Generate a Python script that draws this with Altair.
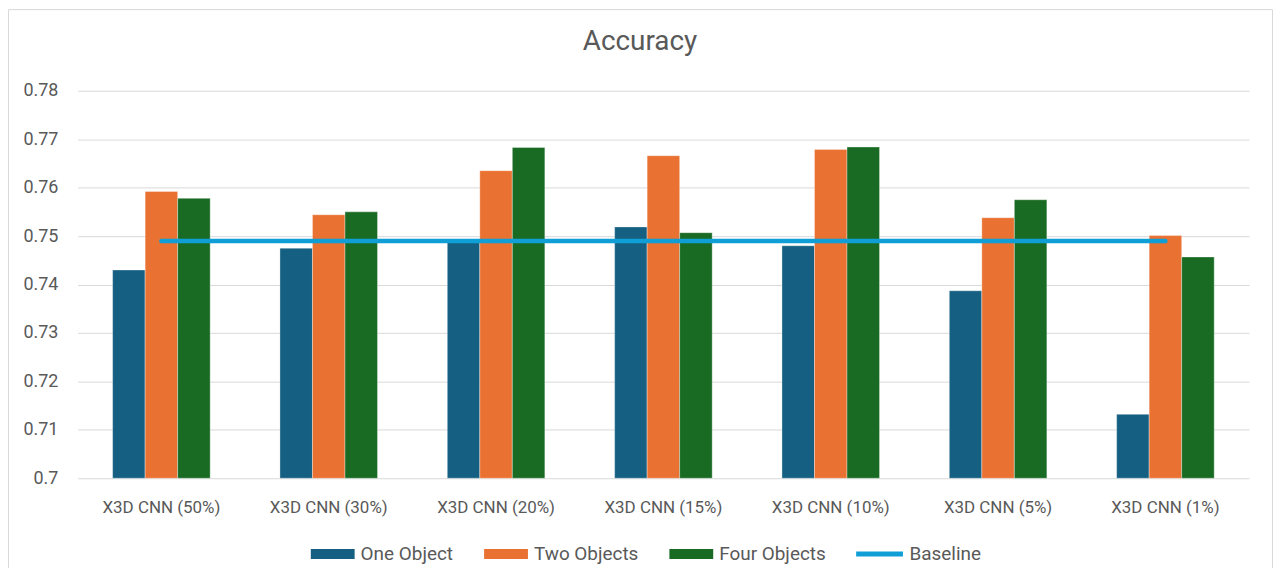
import altair as alt
import pandas as pd

categories = ["X3D CNN (50%)", "X3D CNN (30%)", "X3D CNN (20%)", "X3D CNN (15%)",
              "X3D CNN (10%)", "X3D CNN (5%)", "X3D CNN (1%)"]
series_names = ["One Object", "Two Objects", "Four Objects"]
one_object = [0.7430, 0.7475, 0.7492, 0.7519, 0.7480, 0.7387, 0.7132]
two_objects = [0.7592, 0.7544, 0.7635, 0.7666, 0.7679, 0.7538, 0.7501]
four_objects = [0.7578, 0.7550, 0.7683, 0.7507, 0.7684, 0.7575, 0.7457]
baseline = [0.749, 0.749, 0.749, 0.749, 0.749, 0.749, 0.749]
y_ticks = [0.70, 0.71, 0.72, 0.73, 0.74, 0.75, 0.76, 0.77, 0.78]

bar_colors = ["#156082", "#E97132", "#196B24"]
baseline_color = "#0F9ED5"
text_color = "#595959"
grid_color = "#d9d9d9"
font = "Roboto"

rows = []
for name, vals in zip(series_names, [one_object, two_objects, four_objects]):
    for c, v in zip(categories, vals):
        rows.append({"category": c, "series": name, "value": v})
df_bars = pd.DataFrame(rows)
df_base = pd.DataFrame({"category": categories, "series": "Baseline", "value": baseline})

frame = alt.Chart(pd.DataFrame({"k": [0]})).mark_rect(
    fill="transparent", stroke=grid_color, strokeWidth=1
).encode(
    x=alt.value(-69.5), x2=alt.value(1199.5), y=alt.value(-81.5), y2=alt.value(600)
)

x_enc = alt.X(
    "category:N", sort=categories,
    scale=alt.Scale(paddingInner=0.417, paddingOuter=0.2085),
    axis=alt.Axis(title=None, labelAngle=0, labelFont=font, labelFontSize=17,
                  labelColor=text_color, labelPadding=21, ticks=False, domain=False,
                  grid=False),
)

bars = alt.Chart(df_bars).mark_bar(stroke="white", strokeWidth=1, strokeOpacity=0.35).encode(
    x=x_enc,
    xOffset=alt.XOffset("series:N", sort=series_names,
                        scale=alt.Scale(paddingInner=0, paddingOuter=0)),
    y=alt.Y("value:Q",
            scale=alt.Scale(domain=[0.70, 0.78], nice=False, zero=False),
            axis=alt.Axis(title=None, values=y_ticks, format=".2~f", labelFont=font,
                          labelFontSize=18, labelColor=text_color, labelPadding=20,
                          ticks=False, domain=False, grid=True, gridColor=grid_color,
                          gridWidth=1)),
    y2=alt.datum(0.70),
    color=alt.Color("series:N", sort=series_names,
                    scale=alt.Scale(domain=series_names, range=bar_colors),
                    legend=alt.Legend(title=None, orient="none", direction="horizontal",
                                      legendX=234, legendY=443,
                                      symbolType="M-1,-0.227H1V0.227H-1Z",
                                      symbolSize=1936, symbolStrokeWidth=0,
                                      labelFont=font, labelFontSize=19,
                                      labelColor=text_color, labelOffset=6,
                                      columnPadding=31)),
)

line = alt.Chart(df_base).mark_line(strokeWidth=4.5, strokeCap="round").encode(
    x=alt.X("category:N", sort=categories),
    y=alt.Y("value:Q"),
    stroke=alt.Stroke("series:N",
                      scale=alt.Scale(domain=["Baseline"], range=[baseline_color]),
                      legend=alt.Legend(title=None, orient="none", direction="horizontal",
                                        legendX=779, legendY=439,
                                        symbolType="stroke", symbolSize=2209,
                                        symbolStrokeWidth=5,
                                        labelFont=font, labelFontSize=19,
                                        labelColor=text_color, labelOffset=4)),
)

chart = alt.layer(frame, bars, line).properties(
    width=1176, height=389,
    padding={"left": 70, "top": 82, "right": 24, "bottom": 89},
    autosize=alt.AutoSizeParams(type="none"),
    title=alt.TitleParams(text="Accuracy", font=font, fontSize=28, fontWeight="normal",
                          color=text_color, anchor="middle", frame="group",
                          offset=-69.5, dx=-23.5, baseline="alphabetic"),
).configure_view(strokeWidth=0)

chart.save("out.html", embed_options={"renderer": "svg", "actions": False})
